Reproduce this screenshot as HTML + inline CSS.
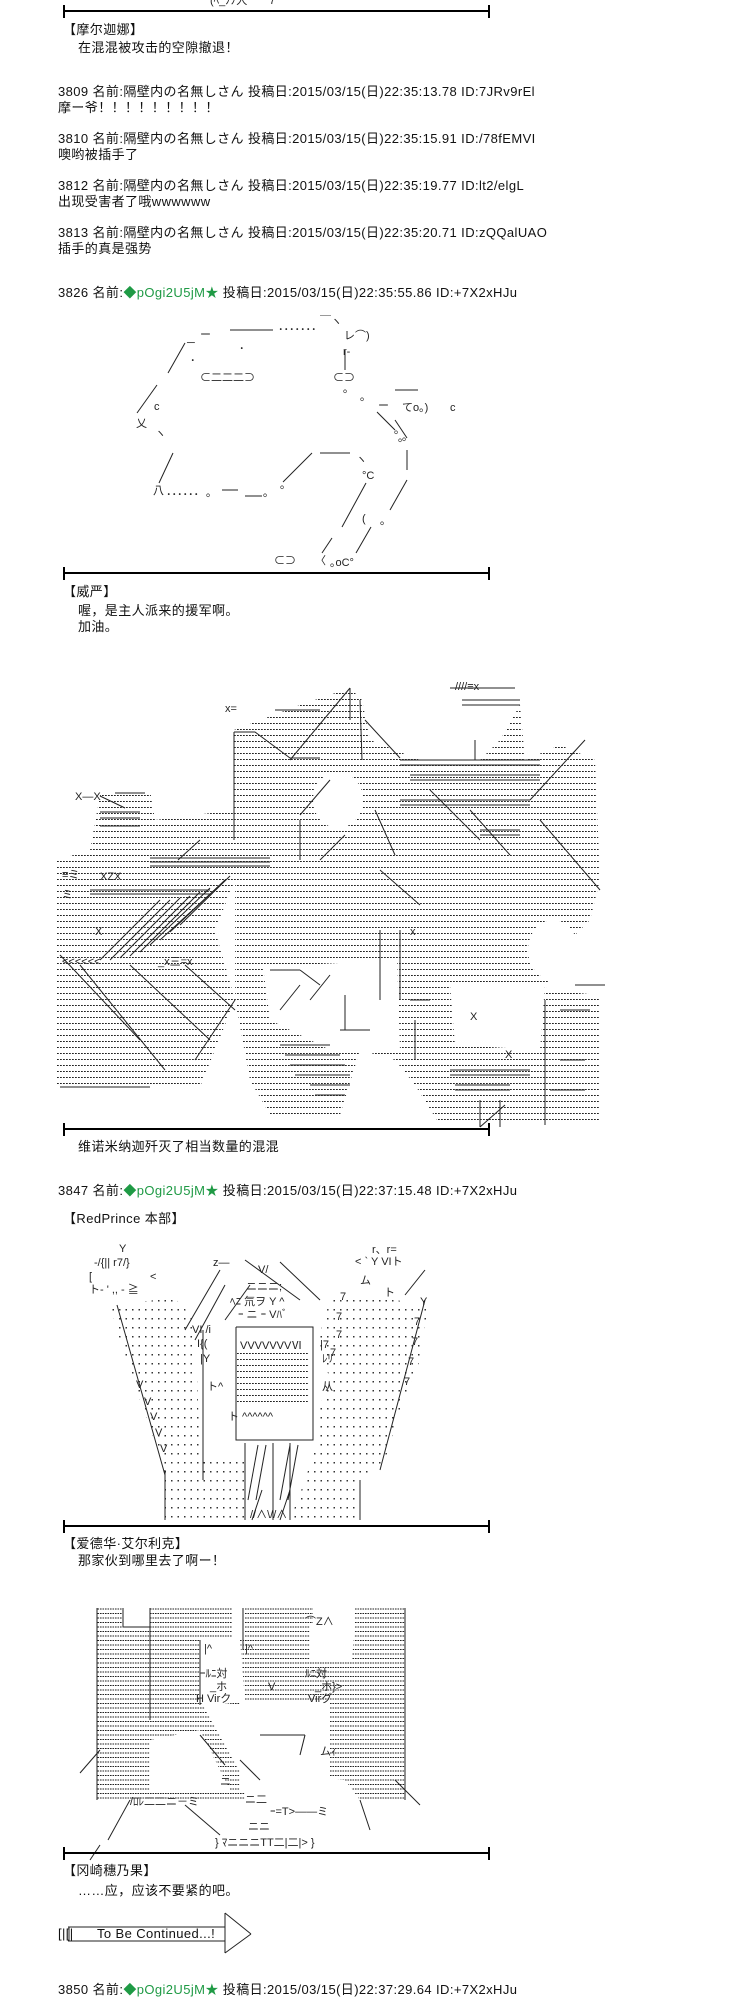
<!DOCTYPE html>
<html><head><meta charset="utf-8">
<style>
html,body{margin:0;padding:0;background:#fff;}
body{width:756px;height:2000px;position:relative;overflow:hidden;font-family:"Liberation Sans","Noto Sans CJK SC","Noto Sans CJK JP",sans-serif;color:#111;}
.t{position:absolute;font-size:13px;line-height:16px;letter-spacing:0.4px;white-space:nowrap;}
.g{color:#1f9a45;}
.bar{position:absolute;left:63px;width:427px;height:2px;background:#000;}
.tk{position:absolute;width:2px;height:13px;background:#000;}
svg{position:absolute;left:0;top:0;}
svg text{font-family:"Liberation Sans","Noto Sans CJK JP",sans-serif;font-size:11px;fill:#222;}
</style></head><body>

<svg width="756" height="2000" viewBox="0 0 756 2000">
<defs>
<pattern id="dr" width="3" height="6" patternUnits="userSpaceOnUse"><rect x="0" y="3" width="1.8" height="1" fill="#222"/></pattern>
<pattern id="dg" width="6.5" height="9" patternUnits="userSpaceOnUse"><rect x="2" y="4" width="1.5" height="1.5" fill="#333"/></pattern>
<pattern id="hl" width="2.5" height="4.5" patternUnits="userSpaceOnUse"><rect x="0" y="2" width="1.6" height="1" fill="#222"/></pattern>
</defs>

<!-- top fragment -->
<text x="210" y="4">(ﾍ_ﾉﾉ人　｀7</text>

<!-- ART 1 (3826) -->
<g stroke="#222" stroke-width="1" fill="none">
<line x1="230" y1="330" x2="273" y2="330"/>
<line x1="168" y1="373" x2="185" y2="343"/>
<line x1="137" y1="413" x2="157" y2="385"/>
<line x1="173" y1="453" x2="159" y2="483"/>
<line x1="283" y1="482" x2="312" y2="453"/>
<line x1="320" y1="453" x2="350" y2="453"/>
<line x1="366" y1="483" x2="342" y2="527"/>
<line x1="395" y1="420" x2="407" y2="438"/>
<line x1="407" y1="450" x2="407" y2="470"/>
<line x1="407" y1="480" x2="390" y2="510"/>
<line x1="371" y1="527" x2="356" y2="553"/>
<line x1="345" y1="350" x2="345" y2="370"/>
<line x1="377" y1="412" x2="395" y2="430"/>
<line x1="395" y1="390" x2="418" y2="390"/>
<line x1="222" y1="490" x2="238" y2="490"/>
<line x1="245" y1="496" x2="262" y2="496"/>
<line x1="332" y1="538" x2="322" y2="553"/>
</g>
<text x="200" y="338">ー</text>
<text x="278" y="333">･･･････</text>
<text x="187" y="346">─</text>
<text x="190" y="364">･</text><text x="239" y="352">･</text>
<text x="200" y="381">⊂二二二⊃</text>
<text x="154" y="410">c</text>
<text x="136" y="427">乂</text>
<text x="155" y="437">ヽ</text>
<text x="320" y="325">￣ヽ</text>
<text x="344" y="339">レ⌒)</text>
<text x="343" y="355">r‐</text>
<text x="333" y="381">⊂⊃</text>
<text x="343" y="392">｡</text><text x="360" y="400">｡</text>
<text x="378" y="409">ー</text>
<text x="402" y="411">てo｡)</text>
<text x="450" y="411">c</text>
<text x="394" y="433">｡</text><text x="398" y="441">｡</text>
<text x="153" y="494">八</text>
<text x="166" y="498">･･････</text>
<text x="206" y="496">｡</text><text x="263" y="496">｡</text><text x="280" y="488">｡</text>
<text x="356" y="463">ヽ</text>
<text x="362" y="479">°C</text>
<text x="402" y="440">｡</text>
<text x="380" y="524">｡</text>
<text x="362" y="522">(</text>
<text x="274" y="564">⊂⊃</text>
<text x="315" y="564">〈</text>
<text x="330" y="566">｡oC°</text>

<!-- ART 2 big -->
<polygon fill="url(#dr)" points="57,860 90,850 100,795 150,790 155,820 235,810 235,880 215,930 235,1000 200,1087 57,1087"/>
<polygon fill="url(#dr)" points="234,730 300,705 350,688 362,700 370,740 420,760 480,760 500,740 520,705 525,760 560,745 595,760 600,880 590,920 560,950 545,990 600,995 600,1120 440,1125 415,1085 395,1060 360,1050 340,1115 270,1115 250,1080 235,1000 235,880"/>
<ellipse cx="338" cy="800" rx="25" ry="28" fill="#fff"/>
<polygon fill="#fff" points="263,967 397,960 400,1050 330,1050 270,1020"/>
<ellipse cx="553" cy="950" rx="25" ry="30" fill="#fff"/>
<polygon fill="#fff" points="450,985 545,985 540,1050 455,1045"/>
<polygon fill="#fff" points="60,790 95,790 90,850 57,858"/>
<g stroke="#222" stroke-width="1" fill="none">
<polyline points="234,732 234,840"/>
<polyline points="234,732 255,732 290,758 320,758"/>
<line x1="350" y1="688" x2="290" y2="760"/>
<line x1="350" y1="688" x2="350" y2="720"/>
<line x1="360" y1="700" x2="362" y2="760"/>
<line x1="320" y1="710" x2="275" y2="710"/>
<line x1="365" y1="720" x2="400" y2="758"/>
<line x1="400" y1="760" x2="540" y2="760"/>
<line x1="400" y1="765" x2="540" y2="765"/>
<line x1="410" y1="775" x2="540" y2="775"/>
<line x1="410" y1="780" x2="540" y2="780"/>
<line x1="400" y1="800" x2="530" y2="800"/>
<line x1="400" y1="805" x2="530" y2="805"/>
<line x1="450" y1="688" x2="515" y2="688"/>
<line x1="462" y1="700" x2="520" y2="700"/>
<line x1="462" y1="705" x2="520" y2="705"/>
<line x1="475" y1="740" x2="475" y2="760"/>
<line x1="585" y1="740" x2="530" y2="800"/>
<line x1="540" y1="820" x2="600" y2="890"/>
<line x1="470" y1="810" x2="510" y2="855"/>
<line x1="480" y1="830" x2="520" y2="830"/>
<line x1="480" y1="835" x2="520" y2="835"/>
<line x1="430" y1="790" x2="480" y2="840"/>
<line x1="330" y1="780" x2="300" y2="815"/>
<line x1="300" y1="820" x2="300" y2="860"/>
<line x1="345" y1="835" x2="320" y2="860"/>
<line x1="375" y1="810" x2="395" y2="855"/>
<line x1="380" y1="870" x2="420" y2="905"/>
<line x1="150" y1="858" x2="270" y2="858"/>
<line x1="150" y1="862" x2="270" y2="862"/>
<line x1="150" y1="866" x2="270" y2="866"/>
<line x1="90" y1="890" x2="210" y2="890"/>
<line x1="90" y1="894" x2="210" y2="894"/>
<line x1="100" y1="812" x2="140" y2="812"/>
<line x1="100" y1="818" x2="140" y2="818"/>
<line x1="100" y1="826" x2="140" y2="826"/>
<line x1="100" y1="796" x2="125" y2="808"/>
<line x1="115" y1="793" x2="145" y2="793"/>
<line x1="178" y1="860" x2="200" y2="840"/>
<line x1="110" y1="960" x2="170" y2="900"/>
<line x1="100" y1="960" x2="160" y2="900"/>
<line x1="120" y1="958" x2="180" y2="898"/>
<line x1="130" y1="956" x2="190" y2="896"/>
<line x1="140" y1="952" x2="200" y2="892"/>
<line x1="150" y1="945" x2="210" y2="888"/>
<line x1="160" y1="940" x2="220" y2="885"/>
<line x1="170" y1="932" x2="225" y2="880"/>
<line x1="180" y1="925" x2="230" y2="876"/>
<line x1="60" y1="955" x2="140" y2="1040"/>
<line x1="80" y1="965" x2="165" y2="1070"/>
<line x1="130" y1="965" x2="210" y2="1040"/>
<line x1="185" y1="965" x2="235" y2="1010"/>
<line x1="235" y1="1000" x2="195" y2="1060"/>
<line x1="60" y1="1087" x2="150" y2="1087"/>
<line x1="270" y1="970" x2="300" y2="970"/>
<line x1="300" y1="970" x2="320" y2="985"/>
<line x1="280" y1="1010" x2="300" y2="985"/>
<line x1="310" y1="1000" x2="330" y2="975"/>
<line x1="345" y1="995" x2="345" y2="1030"/>
<line x1="340" y1="1030" x2="370" y2="1030"/>
<line x1="380" y1="930" x2="380" y2="1000"/>
<line x1="400" y1="930" x2="400" y2="1000"/>
<line x1="410" y1="1000" x2="430" y2="1000"/>
<line x1="415" y1="1020" x2="415" y2="1060"/>
<line x1="280" y1="1045" x2="330" y2="1045"/>
<line x1="285" y1="1055" x2="340" y2="1055"/>
<line x1="290" y1="1065" x2="345" y2="1065"/>
<line x1="295" y1="1075" x2="350" y2="1075"/>
<line x1="310" y1="1085" x2="350" y2="1085"/>
<line x1="315" y1="1095" x2="345" y2="1095"/>
<line x1="450" y1="1070" x2="530" y2="1070"/>
<line x1="450" y1="1075" x2="530" y2="1075"/>
<line x1="455" y1="1085" x2="510" y2="1085"/>
<line x1="455" y1="1090" x2="510" y2="1090"/>
<line x1="500" y1="1100" x2="500" y2="1127"/>
<line x1="480" y1="1100" x2="480" y2="1127"/>
<line x1="480" y1="1127" x2="505" y2="1105"/>
<line x1="545" y1="1000" x2="545" y2="1125"/>
<line x1="560" y1="1010" x2="590" y2="1010"/>
<line x1="560" y1="1060" x2="585" y2="1060"/>
<line x1="550" y1="1090" x2="585" y2="1090"/>
<line x1="575" y1="985" x2="605" y2="985"/>
</g>
<text x="225" y="712">x=</text>
<text x="455" y="690">////≡x</text>
<text x="75" y="800">X—X</text>
<text x="62" y="878">≡ミ</text>
<text x="62" y="898">ミ</text>
<text x="100" y="880">XZX</text>
<text x="95" y="935">X</text>
<text x="62" y="965">&lt;&lt;&lt;&lt;&lt;&lt;</text>
<text x="158" y="965">_x三=x</text>
<text x="410" y="935">x</text>
<text x="470" y="1020">X</text>
<text x="505" y="1058">X</text>

<!-- ART 3 RedPrince -->
<polygon fill="url(#dg)" points="110,1305 175,1298 195,1320 200,1460 240,1470 245,1520 165,1520 165,1470 140,1400 120,1340"/>
<polygon fill="url(#dg)" points="330,1300 395,1300 428,1305 420,1360 400,1410 385,1460 360,1480 360,1520 290,1520 305,1480 318,1440 318,1410 330,1380 318,1340"/>
<polygon fill="url(#dg)" points="200,1460 245,1460 245,1520 200,1520"/>
<rect x="236" y="1352" width="72" height="52" fill="url(#dr)"/>
<g stroke="#222" stroke-width="1" fill="none">
<polyline points="236,1327 236,1440 313,1440 313,1327 236,1327"/>
<line x1="245" y1="1443" x2="245" y2="1520"/>
<line x1="273" y1="1443" x2="273" y2="1520"/>
<line x1="290" y1="1443" x2="290" y2="1520"/>
<line x1="248" y1="1500" x2="258" y2="1445"/>
<line x1="256" y1="1500" x2="266" y2="1445"/>
<line x1="280" y1="1500" x2="290" y2="1445"/>
<line x1="288" y1="1500" x2="298" y2="1445"/>
<line x1="252" y1="1520" x2="262" y2="1490"/>
<line x1="280" y1="1520" x2="290" y2="1490"/>
<line x1="245" y1="1260" x2="300" y2="1300"/>
<line x1="280" y1="1262" x2="320" y2="1300"/>
<line x1="220" y1="1270" x2="185" y2="1330"/>
<line x1="225" y1="1285" x2="195" y2="1340"/>
<line x1="250" y1="1285" x2="225" y2="1320"/>
<line x1="425" y1="1270" x2="405" y2="1295"/>
<line x1="117" y1="1305" x2="165" y2="1475"/>
<line x1="165" y1="1470" x2="165" y2="1520"/>
<line x1="425" y1="1300" x2="380" y2="1470"/>
<line x1="360" y1="1480" x2="360" y2="1520"/>
<line x1="203" y1="1330" x2="203" y2="1480"/>
</g>
<text x="119" y="1252">Y</text>
<text x="94" y="1266">-/{|| r7/}</text>
<text x="89" y="1280">[</text><text x="150" y="1280">&lt;</text>
<text x="89" y="1293">ト‐ ' ,, ‐ ≧</text>
<text x="213" y="1266">z—</text>
<text x="258" y="1273">V/</text>
<text x="372" y="1253">r、r=</text>
<text x="355" y="1265">&lt; ` Y VIト</text>
<text x="360" y="1284">ム</text>
<text x="384" y="1296">ト</text>
<text x="246" y="1290">ニニニ;</text>
<text x="230" y="1305">ﾍﾆ 氘ヲ   Y   ^</text>
<text x="238" y="1318">ｰ   ニ ｰ   Vﾊﾞ</text>
<text x="192" y="1333">VI /i</text>
<text x="197" y="1347">I{(</text>
<text x="240" y="1349">VVVVVVVⅥ</text>
<text x="320" y="1348">|7</text>
<text x="200" y="1362">|Y</text>
<text x="322" y="1362">ﾚﾘ</text>
<text x="207" y="1390">ト^</text>
<text x="322" y="1390">从</text>
<text x="228" y="1420">ト ^^^^^^</text>
<text x="340" y="1300">7</text><text x="336" y="1320">7</text><text x="336" y="1338">7</text><text x="330" y="1356">7</text>
<text x="420" y="1305">Y</text><text x="414" y="1325">7</text><text x="412" y="1345">7</text><text x="408" y="1365">7</text><text x="404" y="1385">7</text>
<text x="136" y="1388">V</text><text x="144" y="1405">V</text><text x="150" y="1420">V</text><text x="155" y="1436">V</text><text x="160" y="1452">V</text>
<text x="250" y="1518">//∧\//∧</text>

<!-- ART 4 -->
<polygon fill="url(#hl)" points="97,1608 123,1608 123,1627 150,1627 150,1608 232,1608 232,1640 245,1640 245,1608 313,1608 313,1640 310,1625 355,1625 355,1608 405,1608 405,1800 360,1800 345,1780 313,1778 313,1740 240,1740 240,1705 200,1700 245,1780 245,1800 97,1800"/>
<polygon fill="#fff" points="310,1625 355,1625 352,1660 310,1660"/>
<polygon fill="#fff" points="200,1640 240,1640 245,1700 200,1700"/>
<polygon fill="#fff" points="240,1700 330,1700 330,1790 240,1790"/>
<polygon fill="#fff" points="150,1740 200,1730 230,1790 150,1790"/>
<g stroke="#222" stroke-width="1" fill="none">
<line x1="97" y1="1608" x2="97" y2="1800"/>
<line x1="150" y1="1608" x2="150" y2="1720"/>
<polyline points="123,1608 123,1627 150,1627"/>
<line x1="200" y1="1640" x2="200" y2="1705"/>
<line x1="243" y1="1608" x2="243" y2="1650"/>
<line x1="405" y1="1608" x2="405" y2="1800"/>
<line x1="80" y1="1773" x2="100" y2="1750"/>
<line x1="108" y1="1840" x2="130" y2="1800"/>
<line x1="100" y1="1845" x2="90" y2="1860"/>
<line x1="185" y1="1805" x2="220" y2="1835"/>
<line x1="200" y1="1735" x2="225" y2="1765"/>
<line x1="240" y1="1760" x2="260" y2="1780"/>
<line x1="260" y1="1735" x2="305" y2="1735"/>
<line x1="305" y1="1735" x2="300" y2="1755"/>
<line x1="395" y1="1780" x2="420" y2="1805"/>
<line x1="360" y1="1800" x2="370" y2="1830"/>
</g>
<text x="204" y="1652">|^</text><text x="245" y="1652">|^</text>
<text x="200" y="1677">ｰﾙﾆ対</text><text x="305" y="1677">ﾙﾆ対</text>
<text x="210" y="1690">_ホ</text><text x="268" y="1690">V</text><text x="315" y="1690">_ホ}&gt;</text>
<text x="196" y="1702">H Virク</text><text x="308" y="1702">Virグ</text>
<text x="320" y="1755">ムｨ</text>
<text x="130" y="1805">/ﾛﾚ二二ニ－ミ</text>
<text x="220" y="1785">ニ</text>
<text x="245" y="1803">ニ二</text>
<text x="270" y="1815">ｰ=T&gt;——ミ</text>
<text x="248" y="1830">ニニ</text>
<text x="215" y="1846">}  ﾏニニニTT二|二|&gt;  }</text>
<text x="305" y="1625">⌒Z∧</text>

<!-- To Be Continued arrow -->
<g stroke="#222" stroke-width="1" fill="none">
<line x1="68" y1="1927" x2="225" y2="1927"/>
<line x1="68" y1="1941" x2="225" y2="1941"/>
<line x1="225" y1="1913" x2="225" y2="1953"/>
<line x1="225" y1="1913" x2="251" y2="1934"/>
<line x1="225" y1="1953" x2="251" y2="1934"/>
<line x1="69" y1="1927" x2="69" y2="1941"/>
</g>
</svg>

<!-- bars -->
<div class="bar" style="top:10px"></div><div class="tk" style="left:63px;top:5px"></div><div class="tk" style="left:488px;top:5px"></div>
<div class="bar" style="top:572px"></div><div class="tk" style="left:63px;top:567px"></div><div class="tk" style="left:488px;top:567px"></div>
<div class="bar" style="top:1128px"></div><div class="tk" style="left:63px;top:1123px"></div><div class="tk" style="left:488px;top:1123px"></div>
<div class="bar" style="top:1525px"></div><div class="tk" style="left:63px;top:1520px"></div><div class="tk" style="left:488px;top:1520px"></div>
<div class="bar" style="top:1852px"></div><div class="tk" style="left:63px;top:1847px"></div><div class="tk" style="left:488px;top:1847px"></div>

<div class="t" style="left:63px;top:22px">【摩尔迦娜】</div>
<div class="t" style="left:78px;top:40px">在混混被攻击的空隙撤退！</div>
<div class="t" style="left:58px;top:84px">3809 名前:隔壁内の名無しさん 投稿日:2015/03/15(日)22:35:13.78 ID:7JRv9rEl</div>
<div class="t" style="left:58px;top:100px">摩ー爷！！！！！！！！！</div>
<div class="t" style="left:58px;top:131px">3810 名前:隔壁内の名無しさん 投稿日:2015/03/15(日)22:35:15.91 ID:/78fEMVI</div>
<div class="t" style="left:58px;top:147px">噢哟被插手了</div>
<div class="t" style="left:58px;top:178px">3812 名前:隔壁内の名無しさん 投稿日:2015/03/15(日)22:35:19.77 ID:lt2/elgL</div>
<div class="t" style="left:58px;top:194px">出现受害者了哦wwwwww</div>
<div class="t" style="left:58px;top:225px">3813 名前:隔壁内の名無しさん 投稿日:2015/03/15(日)22:35:20.71 ID:zQQalUAO</div>
<div class="t" style="left:58px;top:241px">插手的真是强势</div>
<div class="t" style="left:58px;top:285px">3826 名前:<span class="g">◆pOgi2U5jM★</span> 投稿日:2015/03/15(日)22:35:55.86 ID:+7X2xHJu</div>

<div class="t" style="left:63px;top:584px">【威严】</div>
<div class="t" style="left:78px;top:603px">喔，是主人派来的援军啊。</div>
<div class="t" style="left:78px;top:619px">加油。</div>

<div class="t" style="left:78px;top:1139px">维诺米纳迦歼灭了相当数量的混混</div>
<div class="t" style="left:58px;top:1183px">3847 名前:<span class="g">◆pOgi2U5jM★</span> 投稿日:2015/03/15(日)22:37:15.48 ID:+7X2xHJu</div>
<div class="t" style="left:63px;top:1211px">【RedPrince 本部】</div>

<div class="t" style="left:63px;top:1536px">【爱德华·艾尔利克】</div>
<div class="t" style="left:78px;top:1553px">那家伙到哪里去了啊ー！</div>

<div class="t" style="left:63px;top:1863px">【冈崎穗乃果】</div>
<div class="t" style="left:78px;top:1883px">……应，应该不要紧的吧。</div>

<div class="t" style="left:58px;top:1926px">[|[|</div>
<div class="t" style="left:97px;top:1926px">To Be Continued...!</div>

<div class="t" style="left:58px;top:1982px">3850 名前:<span class="g">◆pOgi2U5jM★</span> 投稿日:2015/03/15(日)22:37:29.64 ID:+7X2xHJu</div>
</body></html>
